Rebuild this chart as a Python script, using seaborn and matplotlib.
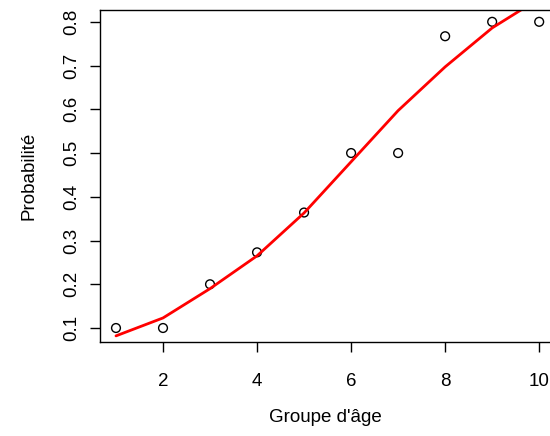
import numpy as np
import pandas as pd
import matplotlib
matplotlib.use("Agg")
import matplotlib.pyplot as plt
import seaborn as sns

# ── Data ───────────────────────────────────────────────────────
age_group = [1, 2, 3, 4, 5, 6, 7, 8, 9, 10]
observed  = [0.100, 0.100, 0.200, 0.273, 0.364, 0.500, 0.500, 0.767, 0.800, 0.800]
fitted    = [0.082, 0.123, 0.190, 0.265, 0.363, 0.480, 0.597, 0.697, 0.786, 0.853]

df = pd.DataFrame({"age": age_group, "obs": observed, "fit": fitted})

sns.set_style("white")
plt.rcParams["font.family"] = ["Liberation Sans", "DejaVu Sans"]
plt.rcParams["text.color"] = "black"
plt.rcParams["axes.labelcolor"] = "black"

fig = plt.figure(figsize=(5.5, 4.36), dpi=100)
ax = fig.add_axes([100 / 550, 1 - 342 / 436, 1 - 100 / 550, 332 / 436])

sns.scatterplot(data=df, x="age", y="obs", ax=ax, marker="o", s=40,
                facecolor="none", edgecolor="black", linewidth=1)
sns.lineplot(data=df, x="age", y="fit", ax=ax, color="red", linewidth=2)

ax.set_xlim(0.66, 10.23)
ax.set_ylim(0.068, 0.827)
ax.set_xticks([2, 4, 6, 8, 10])
ax.set_yticks([0.1, 0.2, 0.3, 0.4, 0.5, 0.6, 0.7, 0.8])
ax.set_yticklabels([f"{v:.1f}" for v in ax.get_yticks()], rotation=90, va="center")

ax.tick_params(axis="both", direction="out", length=7, width=1, color="black",
               labelcolor="black", labelsize=13.5, left=True, bottom=True, pad=7)
ax.tick_params(axis="x", pad=15)
for side in ["left", "bottom", "top"]:
    ax.spines[side].set_color("black")
    ax.spines[side].set_linewidth(1)
ax.spines["right"].set_visible(False)

ax.set_xlabel("Groupe d'âge", fontsize=13.5, labelpad=14)
ax.set_ylabel("Probabilité", fontsize=13.5, labelpad=19)

fig.savefig("out.png", dpi=100)
